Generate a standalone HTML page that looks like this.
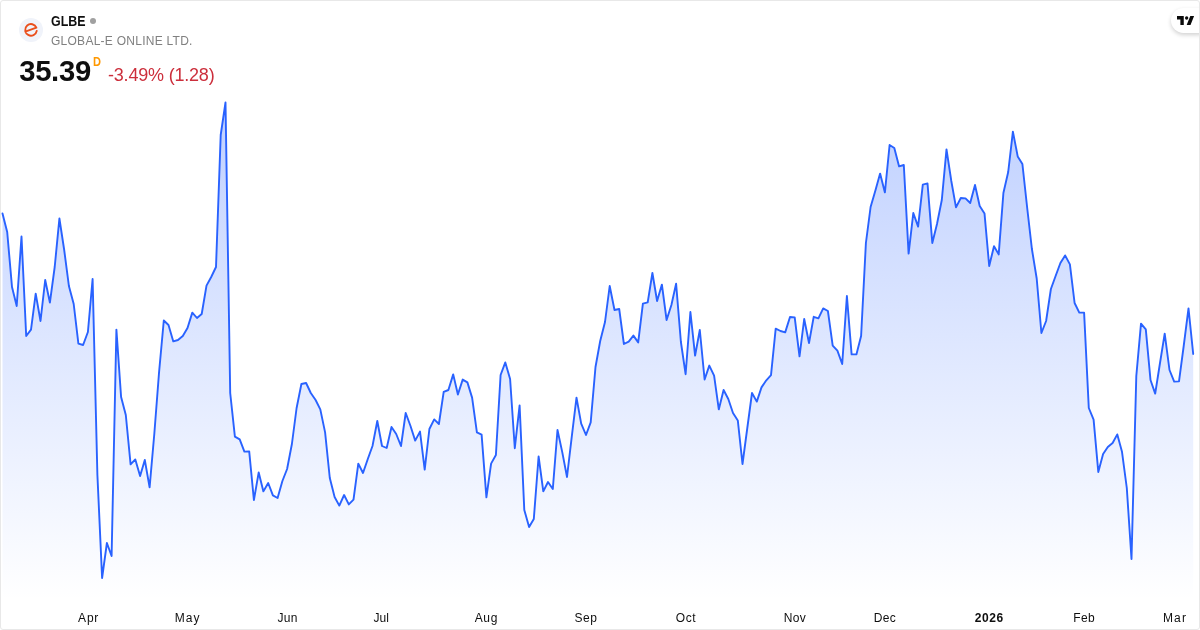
<!DOCTYPE html>
<html><head><meta charset="utf-8"><title>GLBE</title>
<style>
html,body{margin:0;padding:0;background:#fff;}
body{width:1200px;height:630px;position:relative;overflow:hidden;font-family:"Liberation Sans",sans-serif;color:#131722;}
.frame{position:absolute;left:0;top:0;width:1198px;height:628px;border:1px solid #e8e8e8;border-radius:3px;z-index:5;pointer-events:none;}
svg.chart{position:absolute;left:0;top:0;}
.logo{position:absolute;left:19px;top:18px;width:24px;height:24px;border-radius:50%;background:#f0f3fa;}
.sym{position:absolute;left:51.4px;top:13.5px;font-size:13.8px;font-weight:bold;line-height:16px;white-space:nowrap;color:#0f0f0f;transform:scaleX(0.9);transform-origin:0 0;}
.dot{position:absolute;left:90px;top:18px;width:6px;height:6px;border-radius:50%;background:#a0a0a0;}
.desc{position:absolute;left:51px;top:33px;font-size:12px;line-height:16px;white-space:nowrap;color:#808080;letter-spacing:0.26px;}
.price{position:absolute;left:19.2px;top:54.68px;font-size:29.26px;font-weight:bold;line-height:32px;white-space:nowrap;color:#0f0f0f;letter-spacing:-0.3px;}
.d{position:absolute;left:93.3px;top:56.2px;font-size:12.3px;font-weight:bold;line-height:12px;color:#ff9800;transform:scaleX(0.9);transform-origin:0 0;}
.chg{position:absolute;left:108px;top:65px;font-size:18px;line-height:20px;white-space:nowrap;color:#cc2f3c;letter-spacing:-0.2px;}
.pill{position:absolute;left:1171px;top:8px;width:40px;height:25px;border-radius:13px;background:#fff;box-shadow:0 2px 4px rgba(0,0,0,.18);}
.tv{position:absolute;left:1176.8px;top:13.9px;width:17.4px;height:14px;}
</style></head><body>
<svg class="chart" width="1200" height="630" viewBox="0 0 1200 630">
<defs><linearGradient id="g" x1="0" y1="0" x2="0" y2="600" gradientUnits="userSpaceOnUse">
<stop offset="0" stop-color="#2962ff" stop-opacity="0.36"/><stop offset="1" stop-color="#2962ff" stop-opacity="0"/></linearGradient></defs>
<polygon fill="url(#g)" points="2.5,213.5 7.2,232.0 12.0,287.0 16.7,306.0 21.5,236.5 26.2,336.0 31.0,329.6 35.7,293.6 40.5,321.0 45.2,280.0 49.9,302.6 54.7,267.0 59.4,218.5 64.2,250.0 68.9,286.0 73.7,304.0 78.4,343.6 83.1,345.0 87.9,332.0 92.6,279.0 97.4,475.0 102.1,578.0 106.9,543.0 111.6,556.0 116.4,329.6 121.1,397.0 125.8,415.0 130.6,464.4 135.3,459.4 140.1,476.0 144.8,460.0 149.6,487.4 154.3,434.0 159.0,373.0 163.8,320.5 168.5,325.0 173.3,341.4 178.0,340.0 182.8,336.0 187.5,328.0 192.3,312.6 197.0,318.0 201.7,314.0 206.5,285.6 211.2,277.0 216.0,267.0 220.7,135.0 225.5,102.5 230.2,393.0 234.9,436.6 239.7,439.4 244.4,451.6 249.2,451.4 253.9,500.0 258.7,472.4 263.4,491.4 268.2,483.0 272.9,495.4 277.6,498.0 282.4,481.0 287.1,469.0 291.9,444.0 296.6,408.0 301.4,384.0 306.1,383.0 310.8,393.0 315.6,400.0 320.3,409.4 325.1,432.4 329.8,478.0 334.6,497.0 339.3,505.6 344.1,495.0 348.8,504.4 353.5,499.6 358.3,463.6 363.0,473.0 367.8,459.0 372.5,446.0 377.3,421.0 382.0,446.0 386.7,448.0 391.5,427.0 396.2,434.0 401.0,446.0 405.7,413.0 410.5,426.0 415.2,440.6 420.0,431.6 424.7,469.6 429.4,429.0 434.2,419.4 438.9,424.0 443.7,391.8 448.4,390.0 453.2,374.4 457.9,394.5 462.7,379.6 467.4,382.4 472.1,397.6 476.9,432.4 481.6,434.6 486.4,497.4 491.1,463.6 495.9,455.0 500.6,375.0 505.3,362.4 510.1,379.0 514.8,448.2 519.6,405.4 524.3,510.0 529.1,527.0 533.8,519.0 538.6,456.5 543.3,491.4 548.0,482.0 552.8,489.0 557.5,430.0 562.3,452.4 567.0,477.0 571.8,436.4 576.5,397.6 581.2,423.6 586.0,435.0 590.7,422.4 595.5,367.0 600.2,341.0 605.0,322.0 609.7,286.0 614.5,310.0 619.2,309.0 623.9,344.0 628.7,341.6 633.4,335.6 638.2,342.4 642.9,303.6 647.7,302.4 652.4,273.0 657.1,301.0 661.9,284.6 666.6,320.0 671.4,305.0 676.1,283.6 680.9,342.0 685.6,374.2 690.4,312.0 695.1,355.6 699.8,330.0 704.6,379.5 709.3,365.6 714.1,375.6 718.8,409.4 723.6,390.0 728.3,399.0 733.0,413.0 737.8,420.4 742.5,464.0 747.3,428.0 752.0,393.0 756.8,401.6 761.5,387.4 766.3,380.3 771.0,375.2 775.7,328.6 780.5,331.0 785.2,332.4 790.0,317.0 794.7,317.4 799.5,356.4 804.2,319.0 809.0,343.0 813.7,316.8 818.4,318.4 823.2,308.4 827.9,311.0 832.7,345.6 837.4,350.6 842.2,364.0 846.9,296.0 851.6,354.4 856.4,354.4 861.1,336.0 865.9,243.0 870.6,207.0 875.4,190.4 880.1,173.6 884.9,192.4 889.6,145.0 894.3,148.0 899.1,166.4 903.8,165.0 908.6,253.6 913.3,213.0 918.1,226.6 922.8,184.6 927.5,183.4 932.3,243.0 937.0,224.0 941.8,200.0 946.5,149.4 951.3,181.0 956.0,207.4 960.8,198.0 965.5,198.4 970.2,203.0 975.0,185.0 979.7,206.0 984.5,213.4 989.2,266.0 994.0,246.2 998.7,254.4 1003.4,193.0 1008.2,172.0 1012.9,131.6 1017.7,156.4 1022.4,164.0 1027.2,208.0 1031.9,249.0 1036.7,278.5 1041.4,333.0 1046.1,321.0 1050.9,289.0 1055.6,276.0 1060.4,263.0 1065.1,255.4 1069.9,264.4 1074.6,303.0 1079.3,312.6 1084.1,312.6 1088.8,408.0 1093.6,419.6 1098.3,472.0 1103.1,454.0 1107.8,447.0 1112.6,443.0 1117.3,434.4 1122.0,451.8 1126.8,488.0 1131.5,559.0 1136.3,376.0 1141.0,323.6 1145.8,329.4 1150.5,380.0 1155.2,393.6 1160.0,363.0 1164.7,333.6 1169.5,370.0 1174.2,381.6 1179.0,381.4 1183.7,346.0 1188.5,308.4 1193.2,354.0 1193.2,600 2.5,600"/>
<polyline fill="none" stroke="#2962ff" stroke-width="1.9" stroke-linejoin="round" stroke-linecap="round" points="2.5,213.5 7.2,232.0 12.0,287.0 16.7,306.0 21.5,236.5 26.2,336.0 31.0,329.6 35.7,293.6 40.5,321.0 45.2,280.0 49.9,302.6 54.7,267.0 59.4,218.5 64.2,250.0 68.9,286.0 73.7,304.0 78.4,343.6 83.1,345.0 87.9,332.0 92.6,279.0 97.4,475.0 102.1,578.0 106.9,543.0 111.6,556.0 116.4,329.6 121.1,397.0 125.8,415.0 130.6,464.4 135.3,459.4 140.1,476.0 144.8,460.0 149.6,487.4 154.3,434.0 159.0,373.0 163.8,320.5 168.5,325.0 173.3,341.4 178.0,340.0 182.8,336.0 187.5,328.0 192.3,312.6 197.0,318.0 201.7,314.0 206.5,285.6 211.2,277.0 216.0,267.0 220.7,135.0 225.5,102.5 230.2,393.0 234.9,436.6 239.7,439.4 244.4,451.6 249.2,451.4 253.9,500.0 258.7,472.4 263.4,491.4 268.2,483.0 272.9,495.4 277.6,498.0 282.4,481.0 287.1,469.0 291.9,444.0 296.6,408.0 301.4,384.0 306.1,383.0 310.8,393.0 315.6,400.0 320.3,409.4 325.1,432.4 329.8,478.0 334.6,497.0 339.3,505.6 344.1,495.0 348.8,504.4 353.5,499.6 358.3,463.6 363.0,473.0 367.8,459.0 372.5,446.0 377.3,421.0 382.0,446.0 386.7,448.0 391.5,427.0 396.2,434.0 401.0,446.0 405.7,413.0 410.5,426.0 415.2,440.6 420.0,431.6 424.7,469.6 429.4,429.0 434.2,419.4 438.9,424.0 443.7,391.8 448.4,390.0 453.2,374.4 457.9,394.5 462.7,379.6 467.4,382.4 472.1,397.6 476.9,432.4 481.6,434.6 486.4,497.4 491.1,463.6 495.9,455.0 500.6,375.0 505.3,362.4 510.1,379.0 514.8,448.2 519.6,405.4 524.3,510.0 529.1,527.0 533.8,519.0 538.6,456.5 543.3,491.4 548.0,482.0 552.8,489.0 557.5,430.0 562.3,452.4 567.0,477.0 571.8,436.4 576.5,397.6 581.2,423.6 586.0,435.0 590.7,422.4 595.5,367.0 600.2,341.0 605.0,322.0 609.7,286.0 614.5,310.0 619.2,309.0 623.9,344.0 628.7,341.6 633.4,335.6 638.2,342.4 642.9,303.6 647.7,302.4 652.4,273.0 657.1,301.0 661.9,284.6 666.6,320.0 671.4,305.0 676.1,283.6 680.9,342.0 685.6,374.2 690.4,312.0 695.1,355.6 699.8,330.0 704.6,379.5 709.3,365.6 714.1,375.6 718.8,409.4 723.6,390.0 728.3,399.0 733.0,413.0 737.8,420.4 742.5,464.0 747.3,428.0 752.0,393.0 756.8,401.6 761.5,387.4 766.3,380.3 771.0,375.2 775.7,328.6 780.5,331.0 785.2,332.4 790.0,317.0 794.7,317.4 799.5,356.4 804.2,319.0 809.0,343.0 813.7,316.8 818.4,318.4 823.2,308.4 827.9,311.0 832.7,345.6 837.4,350.6 842.2,364.0 846.9,296.0 851.6,354.4 856.4,354.4 861.1,336.0 865.9,243.0 870.6,207.0 875.4,190.4 880.1,173.6 884.9,192.4 889.6,145.0 894.3,148.0 899.1,166.4 903.8,165.0 908.6,253.6 913.3,213.0 918.1,226.6 922.8,184.6 927.5,183.4 932.3,243.0 937.0,224.0 941.8,200.0 946.5,149.4 951.3,181.0 956.0,207.4 960.8,198.0 965.5,198.4 970.2,203.0 975.0,185.0 979.7,206.0 984.5,213.4 989.2,266.0 994.0,246.2 998.7,254.4 1003.4,193.0 1008.2,172.0 1012.9,131.6 1017.7,156.4 1022.4,164.0 1027.2,208.0 1031.9,249.0 1036.7,278.5 1041.4,333.0 1046.1,321.0 1050.9,289.0 1055.6,276.0 1060.4,263.0 1065.1,255.4 1069.9,264.4 1074.6,303.0 1079.3,312.6 1084.1,312.6 1088.8,408.0 1093.6,419.6 1098.3,472.0 1103.1,454.0 1107.8,447.0 1112.6,443.0 1117.3,434.4 1122.0,451.8 1126.8,488.0 1131.5,559.0 1136.3,376.0 1141.0,323.6 1145.8,329.4 1150.5,380.0 1155.2,393.6 1160.0,363.0 1164.7,333.6 1169.5,370.0 1174.2,381.6 1179.0,381.4 1183.7,346.0 1188.5,308.4 1193.2,354.0"/>
<g font-family="Liberation Sans, sans-serif" font-size="12" fill="#0f0f0f"><text x="88.62" y="621.7" text-anchor="middle" letter-spacing="0.8">Apr</text><text x="187.55" y="621.7" text-anchor="middle" letter-spacing="1.05">May</text><text x="287.55" y="621.7" text-anchor="middle" letter-spacing="0.25">Jun</text><text x="381.30" y="621.7" text-anchor="middle" letter-spacing="0.15">Jul</text><text x="486.38" y="621.7" text-anchor="middle" letter-spacing="0.7">Aug</text><text x="586.00" y="621.7" text-anchor="middle" letter-spacing="0.55">Sep</text><text x="686.00" y="621.7" text-anchor="middle" letter-spacing="0.55">Oct</text><text x="794.92" y="621.7" text-anchor="middle" letter-spacing="0.4">Nov</text><text x="884.92" y="621.7" text-anchor="middle" letter-spacing="0.4">Dec</text><text x="989.30" y="621.7" text-anchor="middle" letter-spacing="0.65" font-weight="bold">2026</text><text x="1084.22" y="621.7" text-anchor="middle" letter-spacing="0.4">Feb</text><text x="1175.03" y="621.7" text-anchor="middle" letter-spacing="1.2">Mar</text></g>
</svg>
<div class="logo"><svg width="24" height="24" viewBox="0 0 24 24"><path d="M6.3 13.6 L17.4 9.7 A5.8 5.8 0 1 0 17.74 12.9" fill="none" stroke="#ea4f1c" stroke-width="1.9" stroke-linecap="round" stroke-linejoin="round"/></svg></div>
<div class="sym">GLBE</div><div class="dot"></div>
<div class="desc">GLOBAL-E ONLINE LTD.</div>
<div class="price">35.39</div><div class="d">D</div>
<div class="chg">-3.49% (1.28)</div>
<div class="pill"></div>
<svg class="tv" viewBox="0 0 36 28" preserveAspectRatio="none"><path d="M14 22H7V11H0V4h14v18zM28 22h-8l7.500-18h8L28 22z" fill="#0a0a0a"/><circle cx="20" cy="8" r="3.4" fill="#0a0a0a"/></svg>
<div class="frame"></div>
</body></html>
